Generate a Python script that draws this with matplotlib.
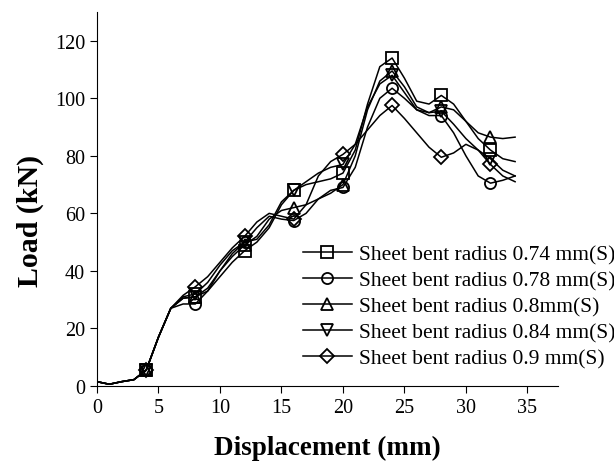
import numpy as np
import matplotlib.pyplot as plt

plt.rcParams['font.family'] = ['Liberation Serif', 'DejaVu Serif']

# displacement (mm), read every 1 mm from the curves
x = np.arange(0, 35)

base = [1.5, 0.6, 1.5, 2.2, 5.5, 17, 27]

r074 = base + [30.5, 31, 33, 38, 43, 47, 50, 55, 63, 68, 70, 71, 72, 74, 82, 98, 111, 114,
               107, 99, 98, 101, 98, 92, 86, 82, 79, 78]
r078 = base + [28.5, 28.5, 33, 40, 46, 50, 55, 59, 58, 57.5, 60, 65, 68, 69, 76, 90, 100, 103.5,
               100, 96, 94, 94, 88, 80, 73, 70.5, 71.5, 73]
r080 = base + [30.5, 31, 34, 40, 45, 49, 52, 58, 61, 62, 63, 65, 67, 70, 80, 96, 106, 109.5,
               104, 97, 95, 97, 96, 92, 88, 86.5, 86, 86.5]
r084 = base + [31, 32, 36, 42, 47, 50, 51, 56, 64, 68, 71, 74, 76, 77, 84, 97, 105, 108,
               102, 96, 95, 95.5, 91, 86, 82, 79, 75, 73]
r090 = base + [31.5, 34.5, 38, 43, 48, 52, 57, 60, 59, 58, 63, 73, 78, 80.5, 84, 89, 94, 97.5,
               93, 88, 83, 79.5, 81, 84, 82, 77, 73, 71]

series = [r074, r078, r080, r084, r090]
labels = ['Sheet bent radius 0.74 mm(S)', 'Sheet bent radius 0.78 mm(S)',
          'Sheet bent radius 0.8mm(S)', 'Sheet bent radius 0.84 mm(S)',
          'Sheet bent radius 0.9 mm(S)']
markers = ['s', 'o', '^', 'v', 'D']
msizes = [8, 8, 9, 9, 7]

fig = plt.figure(figsize=(6.14, 4.64), dpi=100)
ax = fig.add_axes([0.158, 0.166, 0.751, 0.806])

for y, lab, m, ms in zip(series, labels, markers, msizes):
    ax.plot(x, y, color='black', linewidth=1.1, marker=m, markersize=ms,
            markerfacecolor='none', markeredgecolor='black', markeredgewidth=1.3,
            markevery=slice(4, 33, 4), label=lab)

ax.set_xlim(0, 37.5)
ax.set_ylim(0, 130)
ax.set_xticks(np.arange(0, 36, 5))
ax.set_yticks(np.arange(0, 121, 20))
ax.spines['top'].set_visible(False)
ax.spines['right'].set_visible(False)
ax.tick_params(direction='out', length=5, labelsize=14.5)

ax.set_xlabel('Displacement (mm)', fontsize=19.5, fontweight='bold', labelpad=13)
ax.set_ylabel('Load (kN)', fontsize=21.5, fontweight='bold')
ax.yaxis.set_label_coords(-0.114, 0.445)

ax.legend(loc='upper left', bbox_to_anchor=(0.493, 0.472), bbox_transform=fig.transFigure,
          frameon=False, fontsize=15.5, handlelength=2.3, handletextpad=0.3,
          labelspacing=0.28, borderaxespad=0, borderpad=0)

fig.savefig('out.png', dpi=100)
